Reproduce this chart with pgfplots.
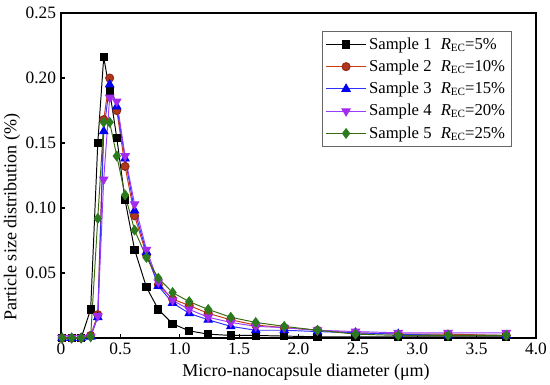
\documentclass[border=0pt]{standalone}
\usepackage{fontspec}
\setmainfont{Liberation Serif}
\usepackage{pgfplots}
\pgfplotsset{compat=1.18}
\usepackage{pgfplotstable}
\definecolor{c2line}{HTML}{CC3A10}
\definecolor{c2fill}{HTML}{B0361C}
\definecolor{c3line}{HTML}{3030FF}
\definecolor{c3fill}{HTML}{0000F0}
\definecolor{c4line}{HTML}{9A3CFF}
\definecolor{c4fill}{HTML}{A52AF0}
\definecolor{c5line}{HTML}{3A6A10}
\definecolor{c5fill}{HTML}{2C7A1E}
\pgfplotstableread{
x s1 s2 s3 s4 s5
0.01 0 0 0 0 0
0.09 0 0 0 0 0
0.17 0 0 0 0 0
0.25 0.022 0.002 0.001 0.001 0.001
0.31 0.150 0.018 0.016 0.017 0.092
0.36 0.216 0.168 0.159 0.122 0.166
0.41 0.190 0.200 0.195 0.185 0.166
0.47 0.154 0.175 0.178 0.182 0.140
0.54 0.106 0.132 0.138 0.140 0.110
0.62 0.068 0.094 0.098 0.103 0.083
0.72 0.039 0.064 0.066 0.068 0.062
0.82 0.022 0.041 0.040 0.043 0.046
0.94 0.011 0.030 0.027 0.029 0.035
1.08 0.0055 0.025 0.019 0.022 0.028
1.24 0.003 0.019 0.014 0.016 0.022
1.43 0.002 0.014 0.009 0.012 0.016
1.64 0.002 0.010 0.006 0.009 0.012
1.88 0.0015 0.008 0.006 0.008 0.009
2.16 0.001 0.006 0.005 0.006 0.006
2.48 0.001 0.004 0.004 0.005 0.003
2.84 0.001 0.003 0.003 0.004 0.002
3.26 0.001 0.003 0.002 0.004 0.002
3.75 0.001 0.002 0.002 0.004 0.002
}\datatable
\newcommand{\rec}{\textit{R}\raisebox{-0.25ex}{\footnotesize EC}}
\begin{document}
\begin{tikzpicture}
\begin{axis}[
  name=ax,
  scale only axis,
  width=342pt, height=234pt,
  xmin=0, xmax=4, ymin=0, ymax=0.25,
  axis line style={line width=0.9pt},
  tick align=inside,
  xtick pos=bottom, ytick pos=left,
  major tick length=3pt,
  tick style={line width=0.8pt, black},
  xtick={0,0.5,1,1.5,2,2.5,3,3.5,4},
  xticklabels={0,0.5,1.0,1.5,2.0,2.5,3.0,3.5,4.0},
  ytick={0.05,0.10,0.15,0.20,0.25},
  yticklabel style={/pgf/number format/.cd, fixed, fixed zerofill, precision=2, assume math mode=true},
  xticklabel style={/pgf/number format/assume math mode=true},
  tick label style={font=\fontsize{12.5}{14}\selectfont},
  label style={font=\fontsize{13}{15}\selectfont},
  xlabel={Micro-nanocapsule diameter (μm)},
  ylabel={Particle size distribution (\%)},
  xlabel style={at={(axis description cs:0.516,-0.105)}, anchor=center},
  ylabel style={at={(axis description cs:-0.103,0.372)}, anchor=center},
  legend style={at={(axis description cs:0.949,0.945)}, anchor=north east,
    draw=black!60, line width=0.6pt, font=\fontsize{12}{14}\selectfont,
    row sep=2.2pt, inner sep=2.5pt, cells={anchor=west}},
  legend image post style={line width=0.7pt},
  legend image code/.code={\draw[mark repeat=2,mark phase=2] plot coordinates {(0cm,0cm) (0.5cm,0cm) (1.0cm,0cm)};},
]
\addplot[black, line width=0.7pt, mark=square*, mark size=2.6pt, mark options={solid, fill=black}] table[x=x,y=s1]{\datatable};
\addlegendentry{Sample 1\hspace{0.55em}\rec=5\%}
\addplot[c2line, line width=0.7pt, mark=*, mark size=2.9pt, mark options={solid, fill=c2fill, draw=c2fill!80!black}] table[x=x,y=s2]{\datatable};
\addlegendentry{Sample 2\hspace{0.55em}\rec=10\%}
\addplot[c3line, line width=0.7pt, mark=triangle*, mark size=3.4pt, mark options={solid, fill=c3fill, draw=c3fill}] table[x=x,y=s3]{\datatable};
\addlegendentry{Sample 3\hspace{0.55em}\rec=15\%}
\addplot[c4line, line width=0.7pt, mark=triangle*, mark size=3.4pt, mark options={solid, rotate=180, fill=c4fill, draw=c4fill}] table[x=x,y=s4]{\datatable};
\addlegendentry{Sample 4\hspace{0.55em}\rec=20\%}
\addplot[c5line, line width=0.7pt, mark=diamond*, mark size=3.4pt, mark options={solid, fill=c5fill, draw=c5fill}] table[x=x,y=s5]{\datatable};
\addlegendentry{Sample 5\hspace{0.55em}\rec=25\%}
\end{axis}
\pgfresetboundingbox
\path ([shift={(-43.9pt,-33.1pt)}]ax.south west) rectangle ([shift={(10.1pt,9.4pt)}]ax.north east);
\end{tikzpicture}
\end{document}
